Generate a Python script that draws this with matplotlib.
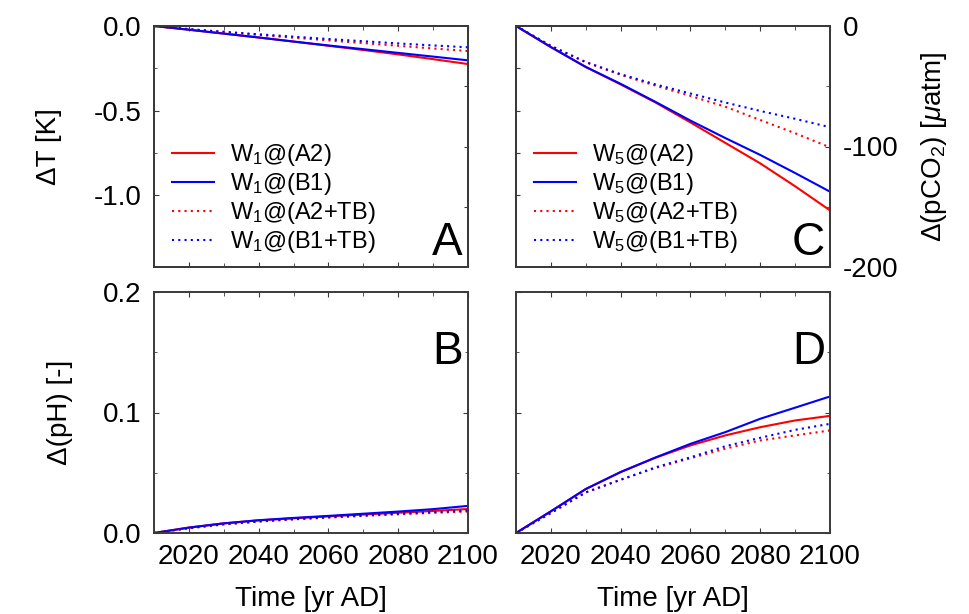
import matplotlib
matplotlib.use('Agg')
import matplotlib.pyplot as plt
from matplotlib.ticker import FixedLocator, FormatStrFormatter, NullFormatter

plt.rcParams['font.family'] = ['Liberation Sans', 'DejaVu Sans']
plt.rcParams['mathtext.fontset'] = 'custom'
plt.rcParams['mathtext.rm'] = 'Liberation Sans'
plt.rcParams['mathtext.it'] = 'Liberation Sans:italic'
plt.rcParams['axes.unicode_minus'] = False

# Dados
years = [2010, 2020, 2030, 2040, 2050, 2060, 2070, 2080, 2090, 2100]

# Painel A: temperatura (W1)
dT_A2 = [0, -0.022, -0.045, -0.068, -0.092, -0.117, -0.142, -0.168, -0.196, -0.225]
dT_B1 = [0, -0.022, -0.045, -0.068, -0.092, -0.115, -0.137, -0.159, -0.181, -0.203]
dT_A2TB = [0, -0.019, -0.036, -0.053, -0.069, -0.085, -0.101, -0.117, -0.133, -0.148]
dT_B1TB = [0, -0.018, -0.034, -0.049, -0.063, -0.077, -0.090, -0.103, -0.115, -0.126]

# Painel B: pH (W1)
pH1_A2 = [0, 0.0045, 0.0080, 0.0105, 0.0122, 0.0138, 0.0153, 0.0168, 0.0183, 0.0199]
pH1_B1 = [0, 0.0045, 0.0080, 0.0106, 0.0125, 0.0142, 0.0160, 0.0178, 0.0198, 0.0225]
pH1_A2TB = [0, 0.0040, 0.0072, 0.0095, 0.0113, 0.0128, 0.0142, 0.0155, 0.0167, 0.0178]
pH1_B1TB = [0, 0.0040, 0.0072, 0.0096, 0.0115, 0.0131, 0.0146, 0.0160, 0.0173, 0.0186]

# Painel C: pCO2 (W5)
pco2_A2 = [0, -17.5, -34, -48.5, -63.5, -80, -97, -114, -133, -153]
pco2_B1 = [0, -17.5, -34, -48, -63, -78.5, -93, -107, -122, -137.5]
pco2_A2TB = [0, -16.5, -30, -40.5, -49.5, -58, -67, -78, -89, -100.7]
pco2_B1TB = [0, -16.5, -30, -40, -48.5, -56, -63.5, -70.5, -77, -84]

# Painel D: pH (W5)
pH5_A2 = [0, 0.018, 0.0365, 0.0506, 0.0625, 0.0727, 0.081, 0.0878, 0.0934, 0.0972]
pH5_B1 = [0, 0.018, 0.0365, 0.0506, 0.0627, 0.074, 0.0837, 0.0948, 0.104, 0.1133]
pH5_A2TB = [0, 0.0166, 0.0337, 0.0442, 0.0540, 0.0620, 0.0700, 0.0768, 0.0810, 0.0851]
pH5_B1TB = [0, 0.0166, 0.0337, 0.0442, 0.0545, 0.0628, 0.0720, 0.0790, 0.0856, 0.0906]

labels1 = ['W$_1$@(A2)', 'W$_1$@(B1)', 'W$_1$@(A2+TB)', 'W$_1$@(B1+TB)']
labels5 = ['W$_5$@(A2)', 'W$_5$@(B1)', 'W$_5$@(A2+TB)', 'W$_5$@(B1+TB)']
cores = ['#ff0000', '#0000ff', '#ff0000', '#0000ff']
estilos = ['-', '-', (0, (1, 2)), (0, (1, 2))]

FS = 20
spine_c = '#3a3a3a'

fig = plt.figure(figsize=(9.69, 6.14), dpi=100)
W, H = 314 / 969, 241 / 614
axA = fig.add_axes([154 / 969, 1 - 267 / 614, W, H])
axC = fig.add_axes([516 / 969, 1 - 267 / 614, W, H])
axB = fig.add_axes([154 / 969, 1 - 533 / 614, W, H])
axD = fig.add_axes([516 / 969, 1 - 533 / 614, W, H])

# eixos gêmeos criados antes (twinx mexe nos ticks do eixo original)
axA2 = axA.twinx()
axC2 = axC.twinx()


def desenha(ax, series, labels):
    for y, lab, c, ls in zip(series, labels, cores, estilos):
        ax.plot(years, y, color=c, linestyle=ls, linewidth=1.5, label=lab)


def eixo_x(ax, rotulos):
    ax.set_xlim(2010, 2100)
    ax.xaxis.set_major_locator(FixedLocator([2020, 2040, 2060, 2080, 2100]))
    ax.xaxis.set_minor_locator(FixedLocator([2030, 2050, 2070, 2090]))
    ax.tick_params(axis='x', which='both', direction='in', top=True, bottom=True,
                   labelsize=FS, pad=8, color=spine_c)
    ax.tick_params(axis='x', which='major', length=3.6)
    ax.tick_params(axis='x', which='minor', length=2.8)
    if not rotulos:
        ax.xaxis.set_major_formatter(NullFormatter())
    else:
        ax.set_xlabel('Time [yr AD]', fontsize=FS)
        ax.xaxis.set_label_coords(0.5, -0.22)


def molduras(ax):
    for s in ax.spines.values():
        s.set_color(spine_c)
        s.set_linewidth(1.4)


desenha(axA, [dT_A2, dT_B1, dT_A2TB, dT_B1TB], labels1)
desenha(axB, [pH1_A2, pH1_B1, pH1_A2TB, pH1_B1TB], labels1)
desenha(axC, [pco2_A2, pco2_B1, pco2_A2TB, pco2_B1TB], labels5)
desenha(axD, [pH5_A2, pH5_B1, pH5_A2TB, pH5_B1TB], labels5)

for ax in [axA, axB, axC, axD, axA2, axC2]:
    molduras(ax)
eixo_x(axA, False)
eixo_x(axC, False)
eixo_x(axB, True)
eixo_x(axD, True)

# Painel A: escala da temperatura à esquerda, escala do pCO2 à direita
axA.set_ylim(-1.425, 0)
axA.yaxis.tick_left()
axA.yaxis.set_major_locator(FixedLocator([0, -0.5, -1.0]))
axA.yaxis.set_minor_locator(FixedLocator([-0.25, -0.75]))
axA.yaxis.set_major_formatter(FormatStrFormatter('%.1f'))
axA.tick_params(axis='y', which='both', direction='in', left=True, right=False,
                labelsize=FS, pad=9, color=spine_c)
axA.tick_params(axis='y', which='major', length=3.6)
axA.tick_params(axis='y', which='minor', length=2.5)
axA.set_ylabel('ΔT [K]', fontsize=FS)
axA.yaxis.set_label_coords(-0.293, 0.5)
axA2.set_ylim(-200, 0)
axA2.yaxis.tick_right()
axA2.yaxis.set_major_locator(FixedLocator([-50, -100, -150]))
axA2.yaxis.set_major_formatter(NullFormatter())
axA2.tick_params(axis='y', direction='in', length=3, color=spine_c)

# Painel C: pCO2 à direita, escala da temperatura à esquerda
axC.set_ylim(-200, 0)
axC.yaxis.tick_right()
axC.yaxis.set_label_position('right')
axC.yaxis.set_major_locator(FixedLocator([0, -100, -200]))
axC.yaxis.set_minor_locator(FixedLocator([-50, -150]))
axC.tick_params(axis='y', which='both', direction='in', left=False, right=True,
                labelleft=False, labelright=True, labelsize=FS, pad=9, color=spine_c)
axC.tick_params(axis='y', which='major', length=3.6)
axC.tick_params(axis='y', which='minor', length=3)
axC.set_ylabel('Δ(pCO$_2$) [$\\mu$atm]', fontsize=FS, rotation=90)
axC.yaxis.set_label_coords(1.285, 0.5)
axC2.set_ylim(-1.425, 0)
axC2.yaxis.tick_left()
axC2.yaxis.set_major_locator(FixedLocator([-0.25, -0.5, -0.75, -1.0]))
axC2.yaxis.set_major_formatter(NullFormatter())
axC2.tick_params(axis='y', direction='in', length=3, color=spine_c,
                 labelleft=False, labelright=False)

# Painéis B e D: pH
for ax, rot in [(axB, True), (axD, False)]:
    ax.set_ylim(0, 0.2)
    ax.yaxis.set_major_locator(FixedLocator([0, 0.1, 0.2]))
    ax.yaxis.set_minor_locator(FixedLocator([0.05, 0.15]))
    ax.yaxis.set_major_formatter(FormatStrFormatter('%.1f'))
    ax.tick_params(axis='y', which='both', direction='in', left=True, right=True,
                   labelsize=FS, pad=9, color=spine_c, labelleft=rot)
    ax.tick_params(axis='y', which='major', length=3.6)
    ax.tick_params(axis='y', which='minor', length=2.5)
axB.set_ylabel('Δ(pH) [-]', fontsize=FS)
axB.yaxis.set_label_coords(-0.258, 0.5)

# Legendas
for ax in [axA, axC]:
    ax.legend(loc='lower left', bbox_to_anchor=(0.057, 0.05), frameon=False,
              fontsize=17, borderpad=0, borderaxespad=0, handlelength=1.8,
              handletextpad=0.65, labelspacing=0.12)

# Letras dos painéis
for ax, letra, yy in [(axA, 'A', 0.05), (axC, 'C', 0.05), (axB, 'B', 0.70), (axD, 'D', 0.70)]:
    ax.text(0.984, yy, letra, transform=ax.transAxes, ha='right', va='baseline',
            fontsize=33)

fig.savefig('out.png', dpi=100)
